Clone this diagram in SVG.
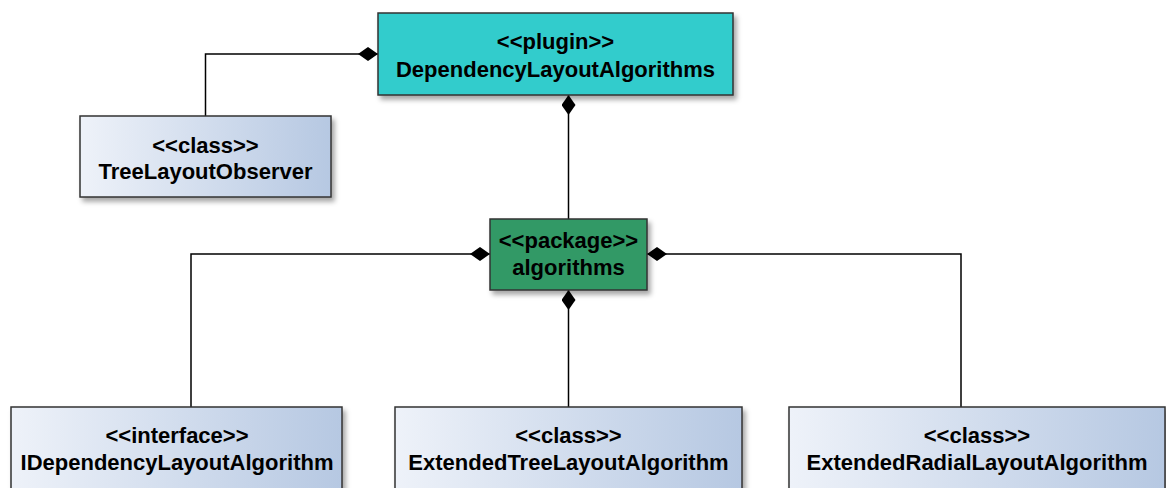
<svg xmlns="http://www.w3.org/2000/svg" width="1166" height="488" viewBox="0 0 1166 488">
  <defs>
    <linearGradient id="cls" x1="0" y1="0" x2="1" y2="0">
      <stop offset="0" stop-color="#eef2f9"/>
      <stop offset="1" stop-color="#b6c8e2"/>
    </linearGradient>
    <filter id="sh" x="-10%" y="-10%" width="130%" height="140%">
      <feDropShadow dx="3" dy="4" stdDeviation="2.5" flood-color="#000" flood-opacity="0.35"/>
    </filter>
    <marker id="dia" viewBox="0 0 20 14" refX="20" refY="7" markerWidth="20" markerHeight="14" markerUnits="userSpaceOnUse" orient="auto">
      <path d="M0,7 L10,0 L20,7 L10,14 Z" fill="#000"/>
    </marker>
  </defs>
  <style>
    .box { stroke: #333; stroke-width: 1.5; filter: url(#sh); }
    .cls { fill: url(#cls); }
    .plugin { fill: #33cccc; }
    .pkg { fill: #339966; }
    text { font-family: "Liberation Sans", Arial, sans-serif; font-weight: bold; font-size: 22px; fill: #000; text-anchor: middle; }
    .edge { fill: none; stroke: #000; stroke-width: 1.5; marker-end: url(#dia); }
  </style>
  <rect width="1166" height="488" fill="#fff"/>

  <g id="connectors">
    <path class="edge" d="M205.5,116 V54 H378"/>
    <path class="edge" d="M568.5,219 V95"/>
    <path class="edge" d="M191,407 V254 H490"/>
    <path class="edge" d="M568.5,407 V290"/>
    <path class="edge" d="M961,407 V254 H647"/>
  </g>

  <g id="plugin">
    <rect class="box plugin" x="378" y="13" width="355" height="82"/>
    <text x="555.5" y="48.5">&lt;&lt;plugin&gt;&gt;</text>
    <text x="555.5" y="76.5">DependencyLayoutAlgorithms</text>
  </g>

  <g id="treeLayoutObserver">
    <rect class="box cls" x="80" y="116" width="251" height="81"/>
    <text x="205.5" y="152.5">&lt;&lt;class&gt;&gt;</text>
    <text x="205.5" y="178.5">TreeLayoutObserver</text>
  </g>

  <g id="algorithms">
    <rect class="box pkg" x="490" y="219" width="157" height="71"/>
    <text x="568.5" y="248">&lt;&lt;package&gt;&gt;</text>
    <text x="568.5" y="275">algorithms</text>
  </g>

  <g id="iDependencyLayoutAlgorithm">
    <rect class="box cls" x="11" y="407" width="331" height="95"/>
    <text x="177" y="443">&lt;&lt;interface&gt;&gt;</text>
    <text x="177" y="470">IDependencyLayoutAlgorithm</text>
  </g>

  <g id="extendedTreeLayoutAlgorithm">
    <rect class="box cls" x="395" y="407" width="347" height="95"/>
    <text x="568.5" y="443">&lt;&lt;class&gt;&gt;</text>
    <text x="568.5" y="470">ExtendedTreeLayoutAlgorithm</text>
  </g>

  <g id="extendedRadialLayoutAlgorithm">
    <rect class="box cls" x="789" y="407" width="376" height="95"/>
    <text x="977" y="443">&lt;&lt;class&gt;&gt;</text>
    <text x="977" y="470">ExtendedRadialLayoutAlgorithm</text>
  </g>
</svg>
